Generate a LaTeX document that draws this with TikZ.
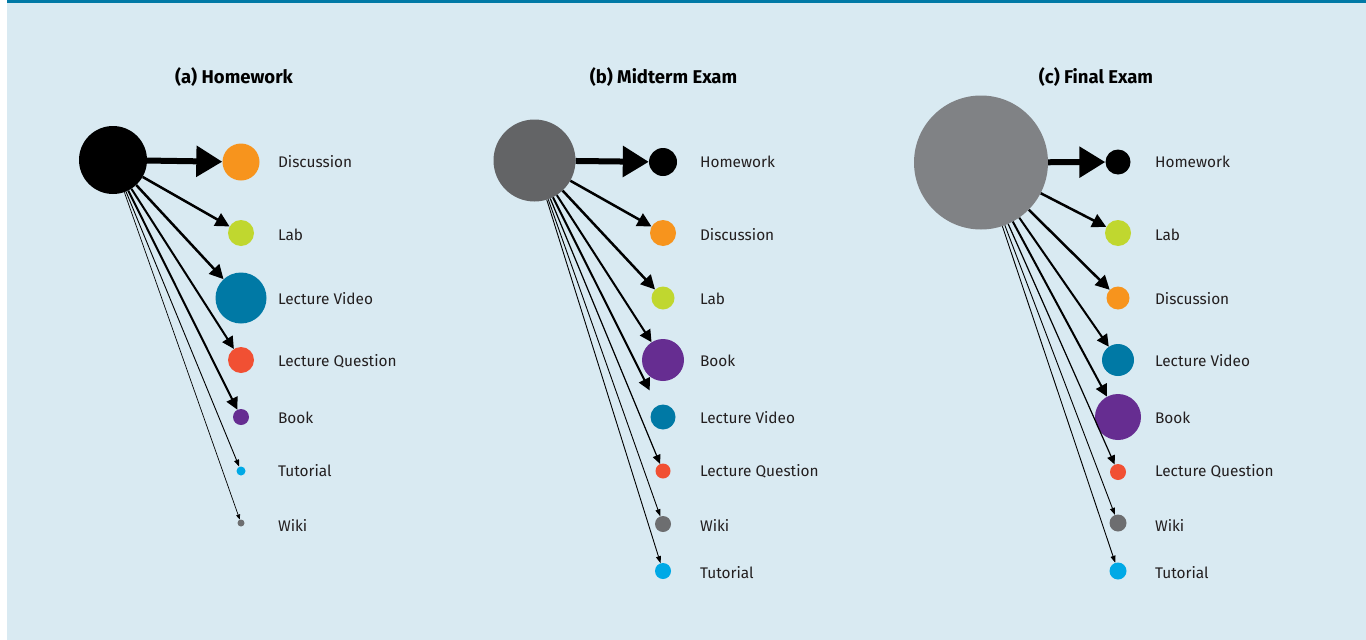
\documentclass[tikz,border=0pt]{standalone}
\usepackage{fontspec}
\setmainfont{Fira Sans}
\usepackage{xcolor}
\usetikzlibrary{arrows.meta,positioning}
\definecolor{bgblue}{HTML}{D9EAF2}
\definecolor{barblue}{HTML}{0079A6}
\definecolor{orng}{HTML}{F7941D}
\definecolor{lime}{HTML}{C0D72F}
\definecolor{teal}{HTML}{0079A5}
\definecolor{tomato}{HTML}{F15033}
\definecolor{purp}{HTML}{662D91}
\definecolor{cyan}{HTML}{00A9E6}
\definecolor{wikigray}{HTML}{6D6E70}
\definecolor{midgray}{HTML}{636466}
\definecolor{fingray}{HTML}{808285}
\definecolor{txt}{HTML}{231F20}

\begin{document}
\begin{tikzpicture}[x=1pt,y=-1pt,
    dot/.style={circle,inner sep=0pt,minimum size=#1},
    lbl/.style={anchor=west,text=txt,font=\fontsize{15.4}{18}\selectfont},
    ttl/.style={font=\bfseries\fontsize{18.5}{22}\selectfont},
    e6/.style={line width=6pt,-{Triangle[length=26pt,width=30pt]}},
    e25/.style={line width=2.5pt,-{Triangle[length=14pt,width=14pt]}},
    e2/.style={line width=2pt,-{Triangle[length=12pt,width=12pt]}},
    e12/.style={line width=1.2pt,-{Triangle[length=9pt,width=8pt]}},
    e1/.style={line width=0.9pt,-{Triangle[length=7pt,width=5pt]}},
    e08/.style={line width=0.7pt,-{Triangle[length=5pt,width=4pt]}}]
    % background
    \useasboundingbox (0,0) rectangle (1366,640);
    \fill[white] (0,0) rectangle (1366,640);
    \fill[bgblue] (7,0) rectangle (1366,640);
    \fill[barblue] (7,0) rectangle (1366,3);

    % (a) Homework
    \node[ttl] (ta) at (234,77) {(a) Homework};
    \node[dot=68pt,fill=black] (hw) at (113,160) {};
    \node[dot=37pt,fill=orng] (hw-disc) at (241,162) {};
    \node[dot=26pt,fill=lime] (hw-lab) at (241,233) {};
    \node[dot=51pt,fill=teal] (hw-lv) at (241,298) {};
    \node[dot=26pt,fill=tomato] (hw-lq) at (241,360) {};
    \node[dot=16pt,fill=purp] (hw-book) at (241,417) {};
    \node[dot=9pt,fill=cyan] (hw-tut) at (241,471) {};
    \node[dot=7pt,fill=wikigray] (hw-wiki) at (241,523) {};
    \node[lbl] at (274.5,162) {Discussion};
    \node[lbl] at (274.5,235) {Lab};
    \node[lbl] at (274.5,299) {Lecture Video};
    \node[lbl] at (274.5,361) {Lecture Question};
    \node[lbl] at (274.5,418) {Book};
    \node[lbl] at (274.5,471) {Tutorial};
    \node[lbl] at (274.5,525) {Wiki};
    \path (hw) edge[e6] (hw-disc)
          (hw) edge[e25] (hw-lab)
          (hw) edge[e25] (hw-lv)
          (hw) edge[e2] (hw-lq)
          (hw) edge[e2] (hw-book)
          (hw) edge[e1] (hw-tut)
          (hw) edge[e08] (hw-wiki);

    % (b) Midterm Exam
    \node[ttl] (tb) at (663.5,77) {(b) Midterm Exam};
    \node[dot=82pt,fill=midgray] (mid) at (534.5,160.5) {};
    \node[dot=28pt,fill=black] (mid-hw) at (663,162) {};
    \node[dot=26pt,fill=orng] (mid-disc) at (663,233) {};
    \node[dot=23pt,fill=lime] (mid-lab) at (663,298) {};
    \node[dot=42pt,fill=purp] (mid-book) at (663,360) {};
    \node[dot=25pt,fill=teal] (mid-lv) at (663,417) {};
    \node[dot=15pt,fill=tomato] (mid-lq) at (663,471) {};
    \node[dot=16pt,fill=wikigray] (mid-wiki) at (663,524) {};
    \node[dot=16pt,fill=cyan] (mid-tut) at (663,571) {};
    \node[lbl] at (696.5,162) {Homework};
    \node[lbl] at (696.5,235) {Discussion};
    \node[lbl] at (696.5,299) {Lab};
    \node[lbl] at (696.5,361) {Book};
    \node[lbl] at (696.5,418) {Lecture Video};
    \node[lbl] at (696.5,471) {Lecture Question};
    \node[lbl] at (696.5,525) {Wiki};
    \node[lbl] at (696.5,573) {Tutorial};
    \path (mid) edge[e6] (mid-hw)
          (mid) edge[e25] (mid-disc)
          (mid) edge[e25] (mid-lab)
          (mid) edge[e2] (mid-book)
          (mid) edge[e2,shorten >=17pt] (mid-lv)
          (mid) edge[e12] (mid-lq)
          (mid) edge[e1] (mid-wiki)
          (mid) edge[e1] (mid-tut);

    % (c) Final Exam
    \node[ttl] (tc) at (1096,77) {(c) Final Exam};
    \node[dot=134pt,fill=fingray] (fin) at (981,162.5) {};
    \node[dot=25pt,fill=black] (fin-hw) at (1118,162) {};
    \node[dot=26pt,fill=lime] (fin-lab) at (1118,233) {};
    \node[dot=23pt,fill=orng] (fin-disc) at (1118,298) {};
    \node[dot=32pt,fill=teal] (fin-lv) at (1118,360) {};
    \node[dot=46pt,fill=purp] (fin-book) at (1118,417) {};
    \node[dot=16pt,fill=tomato] (fin-lq) at (1118,472) {};
    \node[dot=17pt,fill=wikigray] (fin-wiki) at (1118,523) {};
    \node[dot=17pt,fill=cyan] (fin-tut) at (1118,571) {};
    \node[lbl] at (1151.5,162) {Homework};
    \node[lbl] at (1151.5,235) {Lab};
    \node[lbl] at (1151.5,299) {Discussion};
    \node[lbl] at (1151.5,361) {Lecture Video};
    \node[lbl] at (1151.5,418) {Book};
    \node[lbl] at (1151.5,471) {Lecture Question};
    \node[lbl] at (1151.5,525) {Wiki};
    \node[lbl] at (1151.5,573) {Tutorial};
    \path (fin) edge[e6] (fin-hw)
          (fin) edge[e25] (fin-lab)
          (fin) edge[e25] (fin-disc)
          (fin) edge[e2] (fin-lv)
          (fin) edge[e2] (fin-book)
          (fin) edge[e12] (fin-lq)
          (fin) edge[e1] (fin-wiki)
          (fin) edge[e1] (fin-tut);
\end{tikzpicture}
\end{document}
